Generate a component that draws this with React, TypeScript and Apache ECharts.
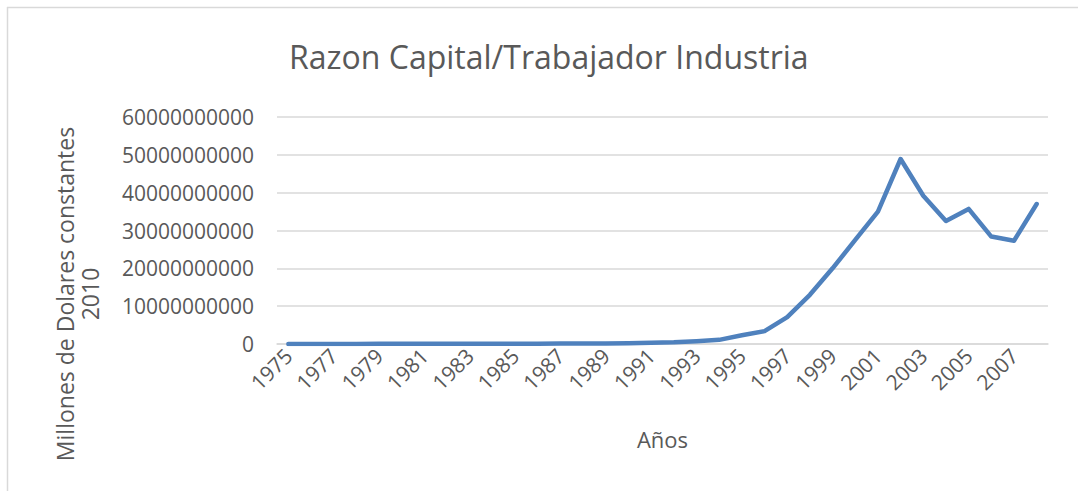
import React, { useEffect, useRef } from "react";
import * as echarts from "echarts";

const years: string[] = [
  "1975", "1976", "1977", "1978", "1979", "1980", "1981", "1982", "1983", "1984",
  "1985", "1986", "1987", "1988", "1989", "1990", "1991", "1992", "1993", "1994",
  "1995", "1996", "1997", "1998", "1999", "2000", "2001", "2002", "2003", "2004",
  "2005", "2006", "2007", "2008",
];

const ratio: number[] = [
  20000000, 20000000, 30000000, 30000000, 40000000, 40000000, 50000000, 50000000, 60000000, 70000000,
  80000000, 90000000, 100000000, 120000000, 150000000, 200000000, 300000000, 450000000, 750000000, 1100000000,
  2300000000, 3400000000, 7100000000, 13000000000, 20000000000, 27500000000, 35000000000, 48900000000, 39200000000, 32500000000,
  35700000000, 28400000000, 27300000000, 37000000000,
];

const yTicks = { min: 0, max: 60000000000, interval: 10000000000 };

const titleText = "Razon Capital/Trabajador Industria";
const xName = "Años";
const yName = "Millones de Dolares constantes\n2010";

const FONT = "'Open Sans', sans-serif";
const TXT = "#595959";

export default function App() {
  const ref = useRef<HTMLDivElement>(null);
  useEffect(() => {
    document.body.style.margin = "0";
    const chart = echarts.init(ref.current!, null, { renderer: "svg" });
    chart.setOption({
      animation: false,
      backgroundColor: "#ffffff",
      title: {
        text: titleText,
        left: 284,
        top: 35,
        textStyle: { fontFamily: FONT, fontSize: 32, fontWeight: "normal", color: TXT },
      },
      grid: { left: 277, right: 30, top: 117, bottom: 147 },
      xAxis: {
        type: "category",
        data: years,
        boundaryGap: true,
        name: xName,
        nameLocation: "middle",
        nameGap: 84,
        nameTextStyle: { fontFamily: FONT, fontSize: 22, color: TXT },
        axisLine: { show: true, lineStyle: { color: "#d9d9d9", width: 1.5 } },
        axisTick: { show: false },
        axisLabel: {
          interval: 1,
          rotate: 45,
          margin: 8,
          fontFamily: FONT,
          fontSize: 21,
          color: TXT,
        },
      },
      yAxis: {
        type: "value",
        min: yTicks.min,
        max: yTicks.max,
        interval: yTicks.interval,
        axisLine: { show: false },
        axisTick: { show: false },
        axisLabel: {
          margin: 23,
          fontFamily: FONT,
          fontSize: 21,
          color: TXT,
          formatter: (v: number) => String(v),
        },
        splitLine: { lineStyle: { color: "#d9d9d9", width: 1.5 } },
      },
      graphic: [
        { type: "line", shape: { x1: 7, y1: 7.5, x2: 1078, y2: 7.5 }, style: { stroke: "#d9d9d9", lineWidth: 1.5 } },
        { type: "line", shape: { x1: 7.5, y1: 7, x2: 7.5, y2: 491 }, style: { stroke: "#d9d9d9", lineWidth: 1.5 } },
        {
          type: "text",
          x: 77,
          y: 294,
          rotation: Math.PI / 2,
          style: {
            text: yName,
            fontFamily: FONT,
            fontSize: 23,
            fill: TXT,
            align: "center",
            verticalAlign: "middle",
            lineHeight: 25,
          },
        },
      ],
      series: [
        {
          type: "line",
          data: ratio,
          showSymbol: false,
          symbol: "none",
          lineStyle: { color: "#4f81bd", width: 4.5, join: "round", cap: "round" },
        },
      ],
    });
    return () => chart.dispose();
  }, []);
  return <div ref={ref} style={{ width: 1078, height: 491 }} />;
}
